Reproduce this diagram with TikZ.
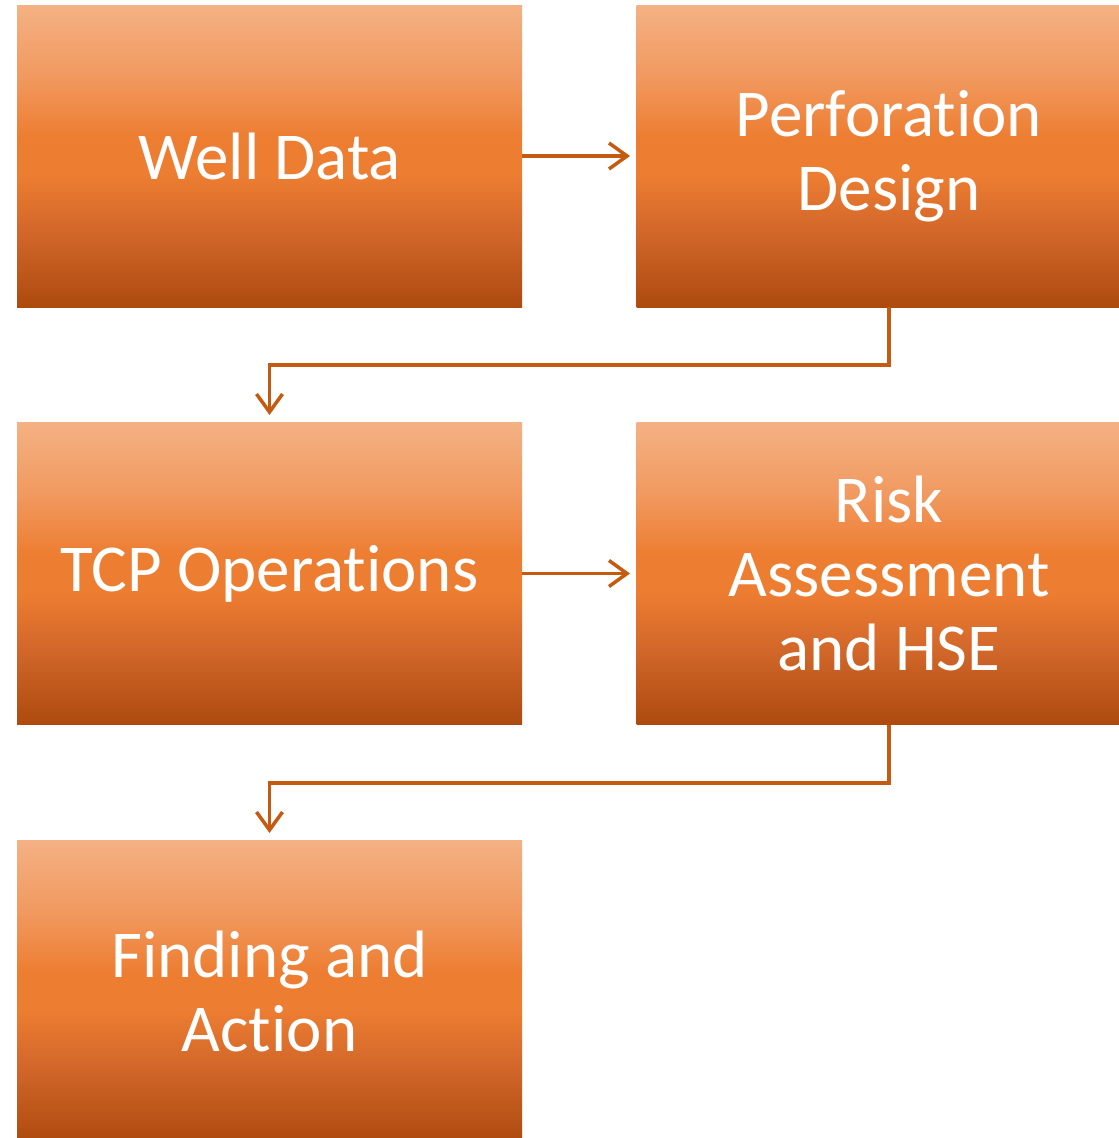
\documentclass[tikz,border=0pt]{standalone}
\usepackage{fontspec}
\setmainfont[Ligatures={NoCommon}]{Carlito}
\usetikzlibrary{arrows.meta}
\definecolor{boxtop}{HTML}{F4B183}
\definecolor{boxup}{HTML}{F1995F}
\definecolor{boxmid}{HTML}{ED7D31}
\definecolor{boxlow}{HTML}{D2672A}
\definecolor{boxbot}{HTML}{AE4A0E}
\definecolor{arrowc}{HTML}{C55A11}
\pgfdeclareverticalshading{boxshade}{100bp}{color(0bp)=(boxbot); color(25bp)=(boxbot); color(37.5bp)=(boxlow); color(47bp)=(boxmid); color(53bp)=(boxmid); color(63bp)=(boxup); color(75bp)=(boxtop); color(100bp)=(boxtop)}
\begin{document}
\begin{tikzpicture}[x=1pt,y=-1pt,
  stepbox/.style={rectangle, minimum width=505pt, minimum height=302pt, inner sep=0pt,
    shading=boxshade, draw=none,
    text=white, align=center, font=\fontsize{67}{74}\selectfont},
  flow/.style={draw=arrowc, line width=3.5pt, -{Straight Barb[length=18pt,width=26pt]}}]
\useasboundingbox (0,0) rectangle (1119,1138);
\begin{scope}
\clip (0,0) rectangle (1119,1138);
\node[stepbox] (well) at (269.5,156) {Well Data};
\node[stepbox] (perf) at (889,156) {Perforation\\Design};
\node[stepbox] (tcp) at (269.5,573.5) {TCP Operations};
\node[stepbox] (risk) at (889,573.5) {Risk\\Assessment\\and HSE};
\node[stepbox] (find) at (269.5,991) {Finding and\\Action};
\end{scope}
\coordinate (perfend) at (630,156);
\draw[flow] (well.east) -- (perfend);
\coordinate (riskend) at (630,573.5);
\draw[flow] (tcp.east) -- (riskend);
\coordinate (tcpend) at (269.5,415);
\draw[flow] (perf.south) |- (269.5,365) -- (tcpend);
\coordinate (findend) at (269.5,833);
\draw[flow] (risk.south) |- (269.5,783) -- (findend);
\end{tikzpicture}
\end{document}
